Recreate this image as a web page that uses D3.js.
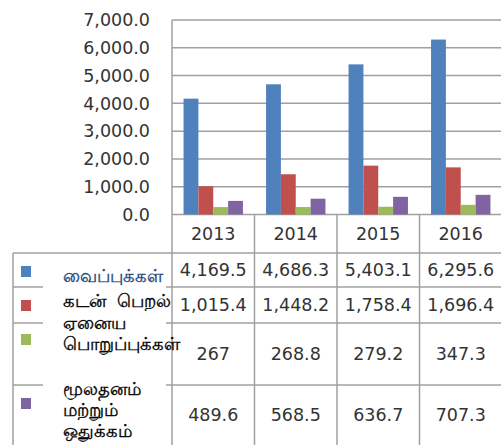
<!DOCTYPE html>
<html>
<head>
<meta charset="utf-8">
<script src="https://cdn.jsdelivr.net/npm/d3@7"></script>
<style>
  body { margin: 0; background: #fff; }
  text { font-family: "DejaVu Sans", Verdana, sans-serif; }
</style>
</head>
<body>
<script>
var width = 501,
    height = 445;

// data
var years = ["2013", "2014", "2015", "2016"];
var seriesKeys = ["deposits", "borrowings", "otherLiab", "capital"];
var seriesNames = [
    ["வைப்புக்கள்"],
    ["கடன்  பெறல்"],
    ["ஏனைய", "பொறுப்புக்கள்"],
    ["மூலதனம்", "மற்றும்", "ஒதுக்கம்"]
];
var deposits = [4169.5, 4686.3, 5403.1, 6295.6];
var borrowings = [1015.4, 1448.2, 1758.4, 1696.4];
var otherLiab = [267, 268.8, 279.2, 347.3];
var capital = [489.6, 568.5, 636.7, 707.3];
var yTicks = [0, 1000, 2000, 3000, 4000, 5000, 6000, 7000];

var seriesValues = [deposits, borrowings, otherLiab, capital];
var colors = ["#4f81bd", "#c0504d", "#9bbb59", "#8064a2"];
var nameColors = ["#1f497d", "#000", "#000", "#000"];

// layout
var plotLeft = 172, plotRight = 502, plotTop = 20, plotBottom = 214.5;
var tableLeft = 13, headerBottom = 253;
var rowBounds = [253, 287, 323, 385, 445];
var keyY = [266, 300, 334, 398];
var nameY = [282, 307, 329, 395];
var lineH = 21;
var gridColor = "#a0a0a0";
var textColor = "#333";

var svg = d3.select("body").append("svg")
    .attr("width", width)
    .attr("height", height);

var x0 = d3.scaleBand().domain(years).range([plotLeft, plotRight]);
var pad = x0.bandwidth() * 0.14;
var x1 = d3.scaleBand().domain(seriesKeys).range([pad, x0.bandwidth() - pad]);
var y = d3.scaleLinear().domain([0, 7000]).range([plotBottom, plotTop]);

// gridlines
svg.append("g").selectAll("line")
    .data(yTicks)
    .join("line")
    .attr("x1", plotLeft)
    .attr("x2", plotRight)
    .attr("y1", function (d) { return y(d); })
    .attr("y2", function (d) { return y(d); })
    .attr("stroke", gridColor)
    .attr("stroke-width", 1.5);

// y labels
svg.append("g").selectAll("text")
    .data(yTicks)
    .join("text")
    .attr("x", 150)
    .attr("y", function (d) { return y(d); })
    .attr("dy", "0.36em")
    .attr("text-anchor", "end")
    .style("font-size", "17.5px")
    .attr("fill", textColor)
    .text(function (d) { return d3.format(",.1f")(d); });

// bars
var groups = svg.append("g").selectAll("g")
    .data(years)
    .join("g")
    .attr("transform", function (d) { return "translate(" + x0(d) + ",0)"; });

groups.selectAll("rect")
    .data(function (d, i) {
        return seriesKeys.map(function (k, j) {
            return {key: k, value: seriesValues[j][i], color: colors[j]};
        });
    })
    .join("rect")
    .attr("x", function (d) { return x1(d.key); })
    .attr("width", x1.bandwidth())
    .attr("y", function (d) { return y(d.value); })
    .attr("height", function (d) { return y(0) - y(d.value); })
    .attr("fill", function (d) { return d.color; });

// plot frame (left edge)
svg.append("line")
    .attr("x1", plotLeft).attr("x2", plotLeft)
    .attr("y1", plotTop).attr("y2", height)
    .attr("stroke", gridColor).attr("stroke-width", 1.5);

// table lines
var tbl = svg.append("g").attr("stroke", gridColor).attr("stroke-width", 1.5);
rowBounds.slice(0, 4).forEach(function (ry) {
    tbl.append("line")
        .attr("x1", tableLeft).attr("x2", plotRight)
        .attr("y1", ry).attr("y2", ry);
});
tbl.append("line")
    .attr("x1", tableLeft).attr("x2", tableLeft)
    .attr("y1", headerBottom).attr("y2", height);
years.forEach(function (yr, i) {
    if (i === 0) return;
    tbl.append("line")
        .attr("x1", x0(yr)).attr("x2", x0(yr))
        .attr("y1", plotBottom).attr("y2", height);
});

// year header
svg.append("g").selectAll("text")
    .data(years)
    .join("text")
    .attr("x", function (d) { return x0(d) + x0.bandwidth() / 2; })
    .attr("y", (plotBottom + headerBottom) / 2)
    .attr("dy", "0.36em")
    .attr("text-anchor", "middle")
    .style("font-size", "17.5px")
    .attr("fill", textColor)
    .text(function (d) { return d; });

// table values
seriesValues.forEach(function (vals, j) {
    var cy = (rowBounds[j] + rowBounds[j + 1]) / 2;
    svg.append("g").selectAll("text")
        .data(vals)
        .join("text")
        .attr("x", function (d, i) { return x0(years[i]) + x0.bandwidth() / 2; })
        .attr("y", cy)
        .attr("dy", "0.36em")
        .attr("text-anchor", "middle")
        .style("font-size", "17.5px")
        .attr("fill", textColor)
        .text(function (d) { return d3.format(",")(d); });
});

// white boxes behind the series names
svg.append("rect").attr("x", 43).attr("y", 256).attr("width", 123).attr("height", 100).attr("fill", "#fff");
svg.append("rect").attr("x", 43).attr("y", 370).attr("width", 123).attr("height", 75).attr("fill", "#fff");

// legend keys
svg.append("g").selectAll("rect")
    .data(colors)
    .join("rect")
    .attr("x", 21)
    .attr("y", function (d, i) { return keyY[i]; })
    .attr("width", 10)
    .attr("height", 11)
    .attr("fill", function (d) { return d; });

// series names
seriesNames.forEach(function (lines, j) {
    var t = svg.append("text")
        .attr("x", 63)
        .attr("y", nameY[j])
        .style("font-size", "18px")
        .attr("fill", nameColors[j])
        .attr("stroke", nameColors[j])
        .attr("stroke-width", 0.35);
    t.selectAll("tspan")
        .data(lines)
        .join("tspan")
        .attr("x", 63)
        .attr("y", function (d, k) { return nameY[j] + k * lineH; })
        .style("white-space", "pre")
        .text(function (d) { return d; });
});
</script>
</body>
</html>
